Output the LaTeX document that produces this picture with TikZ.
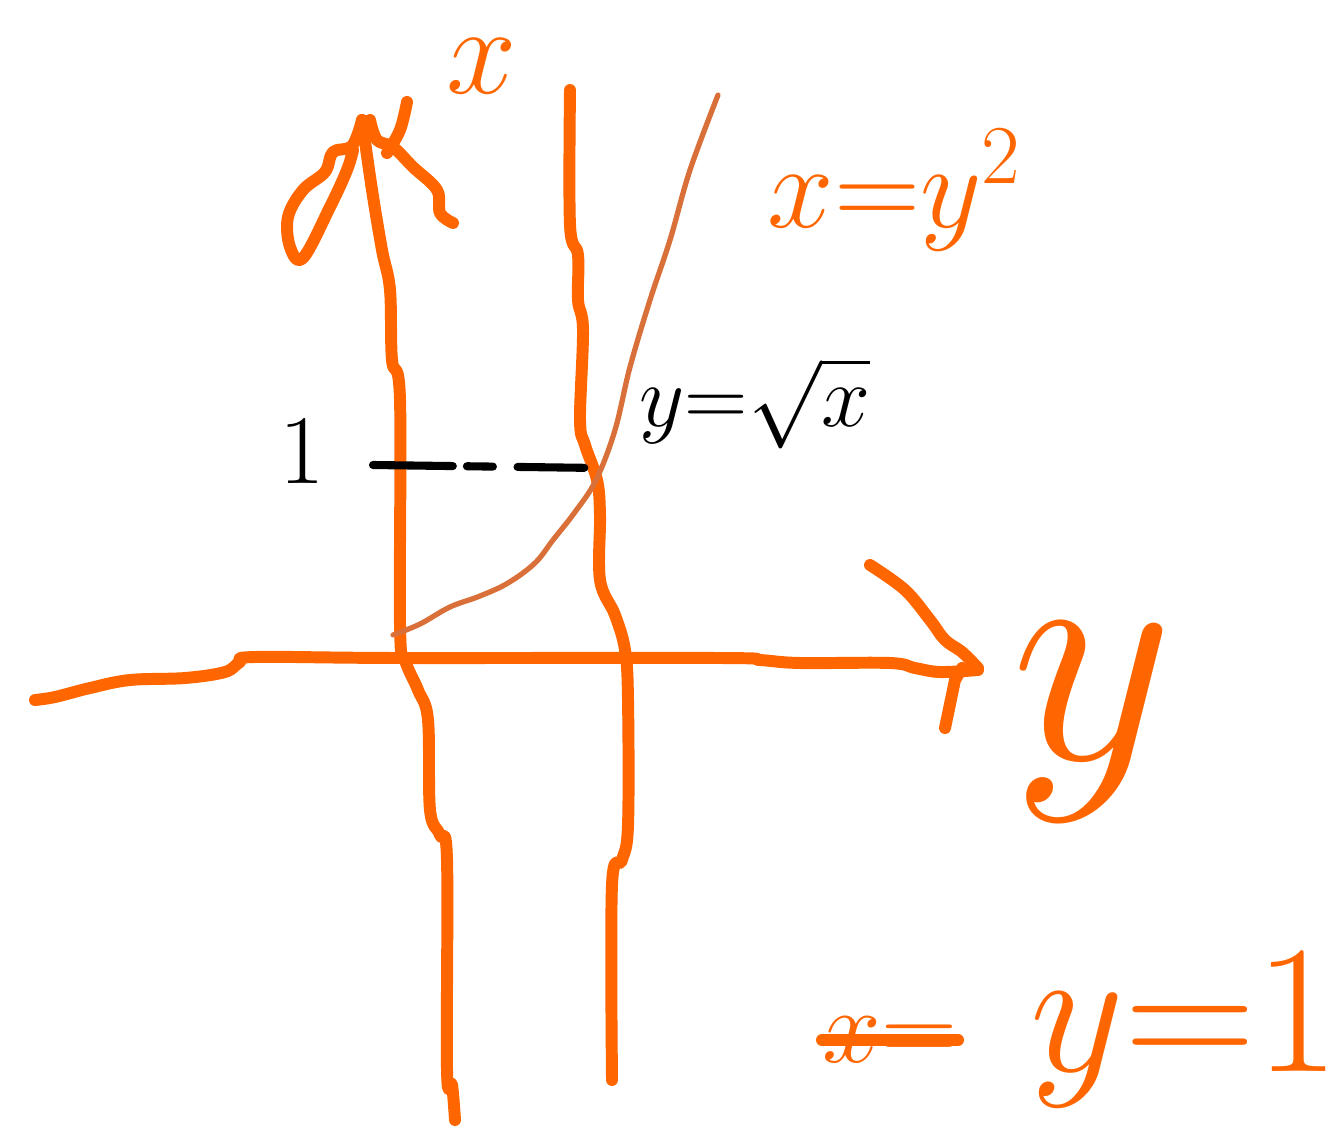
\RequirePackage{fix-cm}
\documentclass[tikz,border=0pt]{standalone}
\usepackage{xcolor}
\definecolor{pen}{HTML}{FF6600}
\definecolor{curvepen}{HTML}{D9703A}

\begin{document}
\begin{tikzpicture}[x=0.01cm, y=-0.01cm,
  stroke/.style={draw=pen, line width=3.4pt, line cap=round, line join=round},
  graph/.style={draw=curvepen, line width=1.5pt, line cap=round, line join=round},
  hint/.style={draw=black, line width=2.3pt, line cap=round, dash pattern=on 22.7pt off 4pt on 7.4pt off 7pt on 19pt},
  lab/.style={inner sep=0pt, text=black},
  olab/.style={inner sep=0pt, text=pen}]
\useasboundingbox (0,0) rectangle (1337,1140);
% horizontal axis (y)
\draw[stroke] plot[smooth, tension=0.6] coordinates {(35,700) (55,697) (90,688) (130,680) (185,678) (225,672) (240,662) (255,657) (400,658) (720,658) (760,660) (800,663) (890,663) (915,668) (940,672) (978,670)};
\draw[stroke] plot[smooth, tension=0.6] coordinates {(870,565) (905,590) (930,620) (945,640) (962,652) (978,668)};
\draw[stroke] (945,728) -- (955,680) -- (962,668);
% vertical axis (x)
\draw[stroke] plot[smooth, tension=0.6] coordinates {(455,1120) (452,1085) (447,1070) (447,860) (440,835) (430,810) (428,720) (418,690) (405,660) (400,625) (400,400) (392,360) (390,290) (382,250) (372,190) (362,120)};
\draw[stroke] plot[smooth, tension=0.6] coordinates {(362,120) (352,146) (333,152) (325,172) (303,190) (288,217) (290,247) (303,258) (330,207) (347,170) (353,150)};
\draw[stroke] plot[smooth, tension=0.6] coordinates {(370,120) (377,140) (393,147) (413,167) (437,190) (440,213) (453,223)};
\draw[stroke] plot[smooth, tension=0.6] coordinates {(407,102) (400,130) (387,153)};
% line x = 1
\draw[stroke] plot[smooth, tension=0.6] coordinates {(570,90) (570,225) (578,255) (578,300) (583,330) (580,420) (585,445) (597,480) (600,515) (600,580) (615,615) (625,650) (628,700) (628,825) (622,860) (612,885) (612,1080)};
% y = sqrt(x)
\draw[graph] plot[smooth, tension=0.6] coordinates {(393,635) (420,624) (450,607) (480,596) (508,583) (535,563) (553,540) (575,512) (596,480) (615,430) (630,367) (650,300) (670,240) (690,170) (718,95)};
\coordinate (cut) at (598,468);
\coordinate (tick) at (373,465);
\draw[hint] (tick) -- (cut);
% labels
\node[lab, font=\fontsize{28}{28}\selectfont] (one) at (302,452) {$1$};
\node[lab, font=\fontsize{25}{25}\selectfont] (root) at (755,403) {$y{=}\sqrt{x}$};
\node[olab, font=\fontsize{36}{36}\selectfont] (xlab) at (482,66) {$x$};
\node[olab, font=\fontsize{90}{90}\selectfont] (ylab) at (1093,722) {$y$};
\node[olab, font=\fontsize{34}{34}\selectfont] (inv) at (895,190) {$x{=}y^{2}$};
\node[olab, font=\fontsize{30}{30}\selectfont] (cross) at (890,1040) {$x{=}$};
\draw[stroke] (cross.west) -- (cross.east);
\node[olab, font=\fontsize{52}{52}\selectfont] (yone) at (1185,1030) {$y{=}1$};
\end{tikzpicture}
\end{document}
